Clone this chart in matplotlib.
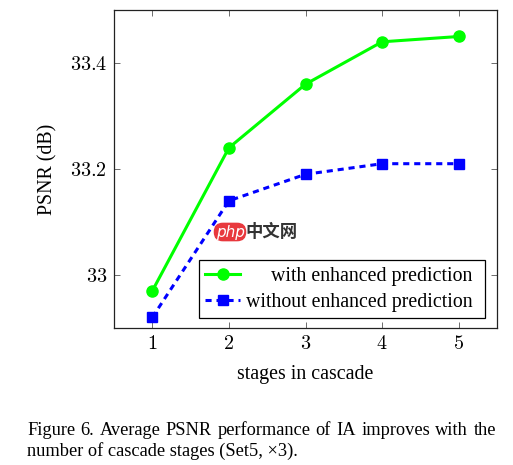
import matplotlib
matplotlib.use("Agg")
import matplotlib.pyplot as plt
from matplotlib.ticker import FuncFormatter

stages = [1, 2, 3, 4, 5]
with_pred = [32.97, 33.24, 33.36, 33.44, 33.45]
without_pred = [32.92, 33.14, 33.19, 33.21, 33.21]
labels = ["     with enhanced prediction ", "without enhanced prediction "]
caption = ["Figure 6. Average PSNR performance of IA improves with the",
           "number of cascade stages (Set5, \u00d73)."]

plt.rcParams["font.family"] = ["Liberation Serif", "DejaVu Serif"]
plt.rcParams["mathtext.fontset"] = "cm"

fig = plt.figure(figsize=(5.13, 4.65), dpi=100)
ax = fig.add_axes([114 / 513, 1 - 328 / 465, 383 / 513, 318 / 465])

ax.plot(stages, with_pred, color="#00ff00", lw=2.2, marker="o", ms=8, label=labels[0])
ax.plot(stages, without_pred, color="#0000ff", lw=2.2, ls=(0, (2.0, 1.6)), marker="s",
        ms=6.5, label=labels[1])

ax.set_xlim(0.5, 5.5)
ax.set_ylim(32.9, 33.5)
ax.set_xticks(stages)
ax.set_yticks([33.0, 33.2, 33.4])
ax.xaxis.set_major_formatter(FuncFormatter(lambda v, p: "$%d$" % v))
ax.yaxis.set_major_formatter(FuncFormatter(lambda v, p: "$%g$" % round(v, 1)))
ax.tick_params(direction="in", length=4, width=0.6, color="#555555", labelsize=14.5,
               top=True, right=True)
ax.tick_params(axis="y", pad=5)
ax.tick_params(axis="x", pad=5)
for s in ax.spines.values():
    s.set_linewidth(0.9)
    s.set_color("#222222")

ax.set_xlabel("stages in cascade", fontsize=14.3, labelpad=8)
ax.set_ylabel("PSNR (dB)", fontsize=14.3, labelpad=9)

leg = ax.legend(loc="lower right", bbox_to_anchor=(0.968, 0.03), fontsize=14.3,
                fancybox=False, edgecolor="black", framealpha=1, handlelength=1.75,
                handletextpad=0.3, labelspacing=0.35, borderpad=0.35, borderaxespad=0)
leg.get_frame().set_linewidth(0.9)

# watermark
fig.text(230 / 513, 1 - 232 / 465, "php", color="white", fontsize=11, ha="center",
         va="center", family=["DejaVu Sans"], style="italic",
         bbox=dict(boxstyle="round,pad=0.12,rounding_size=0.6", fc="#e8383d", ec="none"))
fig.text(245 / 513, 1 - 232 / 465, "中文网", color="#333333", fontsize=12.5, ha="left",
         va="center", weight="bold", family=["Noto Sans CJK SC", "DejaVu Sans"])

# caption, first line justified
fig.canvas.draw()
r = fig.canvas.get_renderer()
words = caption[0].split(" ")
x0, x1 = 27, 496
ts = [fig.text(0, 0, w, fontsize=13.2, va="center") for w in words]
ws = [t.get_window_extent(r).width for t in ts]
gap = (x1 - x0 - sum(ws)) / (len(words) - 1)
x = x0
for t, w in zip(ts, ws):
    t.set_position((x / 513, 1 - 430 / 465))
    x += w + gap
fig.text(x0 / 513, 1 - 451 / 465, caption[1], fontsize=13.2, va="center")

fig.savefig("out.png", dpi=100)
